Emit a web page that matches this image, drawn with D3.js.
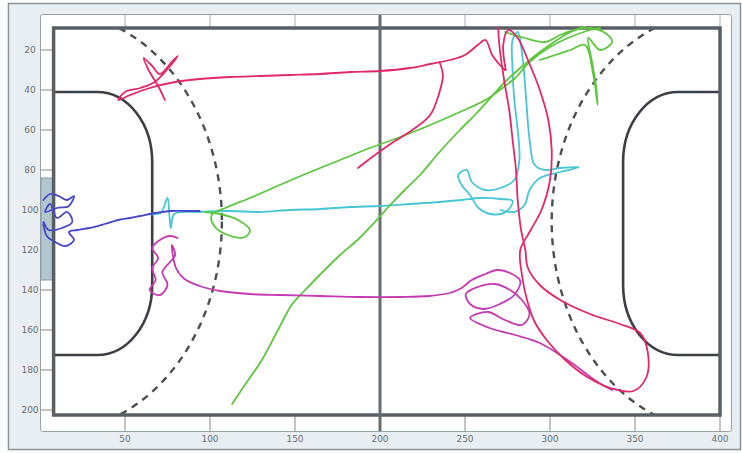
<!DOCTYPE html>
<html>
<head>
<meta charset="utf-8">
<script src="https://cdn.jsdelivr.net/npm/d3@7"></script>
<style>
  body { margin: 0; background: #fff; }
  text { font-family: "DejaVu Sans", sans-serif; }
</style>
</head>
<body>
<div id="chart"></div>
<script>
// axis ticks
const xTicks = [50, 100, 150, 200, 250, 300, 350, 400];
const yTicks = [20, 40, 60, 80, 100, 120, 140, 160, 180, 200];

// court geometry (data units)
const courtX = [8, 400];
const courtY = [9, 202.5];
const centerX = 200;
const goalAreaLeft = [8, 66];
const goalAreaRight = [343, 400];
const goalAreaY = [41, 172.5];
const goalLeft = { x: [0, 8], y: [84, 135] };
const freeThrowRx = 99;
const freeThrowRy = 105;

// player trajectories
const blueTrack = [[2,95],[6,92],[11,93],[16,95],[20,93],[17,98],[10,99],[3,101],[6,97],[10,104],[16,101],[19,106],[13,109],[5,110],[2,106],[4,113],[9,116],[15,118],[20,115],[17,111],[22,110],[29,109],[38,107],[46,105],[53,104],[59,103],[68,101.5],[77,100.5],[86,100.5],[94,100.5]];

const cyanTrack = [[65,102],[71,101.5],[75,94],[76,101.5],[77,109],[79,102],[94,101],[112,100.5],[129,101],[147,100],[165,99.5],[182,98.5],[200,98],[218,97],[235,96],[248,95],[259,94],[271,94.5],[278,95.5],[274,101],[265,102],[258,99],[253,92.5],[248,87.5],[246,82.5],[251,80],[254,86],[262,90],[271,89],[279,85],[282,75],[281,60],[279,45],[278,30],[278,15],[281,11],[284,25],[286,45],[288,65],[291,77.5],[297,80],[306,79],[317,78.5],[306,81],[294,84],[288,90],[285,97.5],[279,101],[271,100]];

const greenTrack1 = [[113,197],[120.5,187.5],[130.5,175],[140,160],[148,147.5],[156,140],[164.5,132.5],[176.5,122.5],[188,114],[197,106],[206,97.5],[214.5,90],[223.5,82.5],[235,71],[247,60],[257.5,51],[266.5,42.5],[273.5,36],[282.5,29],[294,21],[306,14],[314.5,10],[320.5,8.5]];
const greenTrack2 = [[97,101],[106,102],[116.5,105],[123.5,110],[120.5,113.5],[110.5,112.5],[102.5,108],[101,102.5],[109,99],[123.5,94],[141,87.5],[159,81],[176.5,75],[194,69],[212,63.5],[229.5,57.5],[247,51],[262,45],[270.5,40],[279.5,34],[288,26],[300,18.5],[312,13.5],[323.5,10],[329.5,9]];
const greenTrack3 = [[273.5,11],[285,14],[297,16],[306,12.5],[314.5,10],[323.5,9],[332.5,11.5],[336.5,16],[329.5,20],[322.5,14],[324.5,25],[327,37.5],[328,47.5],[325.5,32.5],[320.5,17.5],[312,20],[303,22.5],[294,25]];

const crimsonTrack1 = [[73.5,45],[69.5,38],[64.5,31],[61,24],[66,28],[70.5,32],[77.5,26],[81,23],[75.5,29],[67.5,36],[59,39],[50,41],[46,45],[53,42.5],[64.5,39],[79.5,36],[94,34.5],[112,33.5],[129.5,33],[147,32.5],[164.5,32],[182.5,31],[200,30.5],[217.5,29],[229.5,27],[241,25],[250,22.5],[257.5,17.5],[262,15],[266,22.5],[270.5,27.5],[273.5,30]];
const crimsonTrack2 = [[235,26],[237,32.5],[235,41],[229.5,52.5],[219,60],[207,66.5],[197,72.5],[187,79]];
const crimsonTrack3 = [[269.5,9],[270.5,20],[273,35],[276,50],[278,65],[280,80],[281,95],[283,110],[285.5,120],[287,129],[294,137.5],[306,145],[323.5,152],[341,157],[353,161.5],[357.5,171],[356.5,184],[349,190.5],[335.5,189],[321,183],[309,175],[299,166],[291,156],[286.5,145],[283.5,132.5],[282.5,120],[288,111],[295,100],[300,85],[301,70],[299,55],[294,40],[287,25],[281,14],[275.5,10],[272.5,17.5],[274,30]];

const magentaTrack = [[81,114],[76.5,113],[70.5,115],[66,119],[69.5,124],[66,129],[68,135],[64.5,140],[70.5,142.5],[75,137.5],[72,131],[76.5,126],[79.5,122.5],[77.5,117.5],[80,129],[85,134.5],[94,138],[106,140.5],[123.5,142],[141,142.5],[164.5,143],[188,143.5],[212,143.5],[229,143],[241,141.5],[248,139],[254,135],[262,132],[269,130],[276.5,131.5],[282.5,135.5],[279,142.5],[270.5,147],[261,149.5],[253,147],[250.5,142],[257.5,138.5],[267.5,137],[276.5,140],[283.5,145],[288,152],[283.5,157.5],[273.5,155],[263.5,151],[253,154],[264.5,159],[279.5,162.5],[294,166.5],[312,176],[328,186],[336.5,190]];

const tracks = [
  { pts: cyanTrack, color: "#46c6d4" },
  { pts: greenTrack1, color: "#5cc63e" },
  { pts: greenTrack2, color: "#5cc63e" },
  { pts: greenTrack3, color: "#5cc63e" },
  { pts: magentaTrack, color: "#c43ab2" },
  { pts: crimsonTrack1, color: "#e0286a" },
  { pts: crimsonTrack2, color: "#e0286a" },
  { pts: crimsonTrack3, color: "#e0286a" },
  { pts: blueTrack, color: "#4646c8" }
];

const W = 742, H = 453;
const x = d3.scaleLinear().domain([0, 400]).range([40, 720]);
const y = d3.scaleLinear().domain([0, 200]).range([10, 410]);

const svg = d3.select("#chart").append("svg")
  .attr("width", W).attr("height", H);

// figure panel
svg.append("rect").attr("x", 0).attr("y", 0).attr("width", W).attr("height", H).attr("fill", "#fbfcfd");
svg.append("rect").attr("x", 8.5).attr("y", 3.5).attr("width", 732).attr("height", 446)
  .attr("fill", "#e9eef2").attr("stroke", "#8c9399").attr("stroke-width", 1.5);

// axes box
svg.append("rect").attr("x", 40.5).attr("y", 14.5).attr("width", 691).attr("height", 417)
  .attr("fill", "#fff").attr("stroke", "#9aa1a6").attr("stroke-width", 1).attr("rx", 2);

// ticks
svg.selectAll(".xt").data(xTicks).enter().append("line")
  .attr("x1", d => x(d)).attr("x2", d => x(d)).attr("y1", 15).attr("y2", y(courtY[0]))
  .attr("stroke", "#aab").attr("stroke-width", 1);
svg.selectAll(".xb").data(xTicks).enter().append("line")
  .attr("x1", d => x(d)).attr("x2", d => x(d)).attr("y1", y(courtY[1])).attr("y2", 431)
  .attr("stroke", "#888").attr("stroke-width", 1);
svg.selectAll(".yt").data(yTicks).enter().append("line")
  .attr("x1", 41).attr("x2", x(courtX[0])).attr("y1", d => y(d)).attr("y2", d => y(d))
  .attr("stroke", "#888").attr("stroke-width", 1);

svg.selectAll(".xl").data(xTicks).enter().append("text")
  .attr("x", d => x(d)).attr("y", 442).attr("text-anchor", "middle")
  .attr("font-size", 9).attr("fill", "#6a7075").text(d => d);
svg.selectAll(".yl").data(yTicks).enter().append("text")
  .attr("x", 30).attr("y", d => y(d) + 3).attr("text-anchor", "middle")
  .attr("font-size", 9).attr("fill", "#6a7075").text(d => d);

// goal
svg.append("rect")
  .attr("x", x(goalLeft.x[0]) + 1).attr("y", y(goalLeft.y[0]))
  .attr("width", x(goalLeft.x[1]) - x(goalLeft.x[0]) - 1).attr("height", y(goalLeft.y[1]) - y(goalLeft.y[0]))
  .attr("fill", "#b2c6d0").attr("stroke", "#8a9ca6").attr("stroke-width", 1);

// court clip
svg.append("clipPath").attr("id", "court").append("rect")
  .attr("x", x(courtX[0])).attr("y", y(courtY[0]))
  .attr("width", x(courtX[1]) - x(courtX[0])).attr("height", y(courtY[1]) - y(courtY[0]));

const cy = y((courtY[0] + courtY[1]) / 2);
const dash = svg.append("g").attr("clip-path", "url(#court)");
[courtX[0], courtX[1]].forEach(cx => {
  dash.append("ellipse")
    .attr("cx", x(cx)).attr("cy", cy)
    .attr("rx", x(freeThrowRx) - x(0)).attr("ry", y(freeThrowRy) - y(0))
    .attr("fill", "none").attr("stroke", "#4a4f54").attr("stroke-width", 2.4)
    .attr("stroke-dasharray", "7,6");
});

// goal areas (D shapes)
function goalArea(x0, x1, side) {
  const p = d3.path();
  const top = y(goalAreaY[0]), bot = y(goalAreaY[1]);
  const rx = 55, ry = 70, k = 0.5523;
  if (side === "left") {
    const a = x(x0), b = x(x1);
    p.moveTo(a, top);
    p.lineTo(b - rx, top);
    p.bezierCurveTo(b - rx + rx * k, top, b, top + ry - ry * k, b, top + ry);
    p.lineTo(b, bot - ry);
    p.bezierCurveTo(b, bot - ry + ry * k, b - rx + rx * k, bot, b - rx, bot);
    p.lineTo(a, bot);
  } else {
    const a = x(x1), b = x(x0);
    p.moveTo(a, top);
    p.lineTo(b + rx, top);
    p.bezierCurveTo(b + rx - rx * k, top, b, top + ry - ry * k, b, top + ry);
    p.lineTo(b, bot - ry);
    p.bezierCurveTo(b, bot - ry + ry * k, b + rx - rx * k, bot, b + rx, bot);
    p.lineTo(a, bot);
  }
  return p.toString();
}
svg.append("path").attr("d", goalArea(goalAreaLeft[0], goalAreaLeft[1], "left"))
  .attr("fill", "none").attr("stroke", "#3c4044").attr("stroke-width", 2.6);
svg.append("path").attr("d", goalArea(goalAreaRight[0], goalAreaRight[1], "right"))
  .attr("fill", "none").attr("stroke", "#3c4044").attr("stroke-width", 2.6);

// court outline and centre line
svg.append("rect")
  .attr("x", x(courtX[0])).attr("y", y(courtY[0]))
  .attr("width", x(courtX[1]) - x(courtX[0])).attr("height", y(courtY[1]) - y(courtY[0]))
  .attr("fill", "none").attr("stroke", "#5a5f64").attr("stroke-width", 3.5);
svg.append("line")
  .attr("x1", x(centerX)).attr("x2", x(centerX)).attr("y1", 15).attr("y2", 431)
  .attr("stroke", "#676c71").attr("stroke-width", 3);

// trajectories
const line = d3.line().x(d => x(d[0])).y(d => y(d[1])).curve(d3.curveCatmullRom.alpha(0.5));
svg.append("g").selectAll("path").data(tracks).enter().append("path")
  .attr("d", d => line(d.pts))
  .attr("fill", "none")
  .attr("stroke", d => d.color)
  .attr("stroke-width", 1.8)
  .attr("stroke-linejoin", "round")
  .attr("stroke-linecap", "round");
</script>
</body>
</html>
